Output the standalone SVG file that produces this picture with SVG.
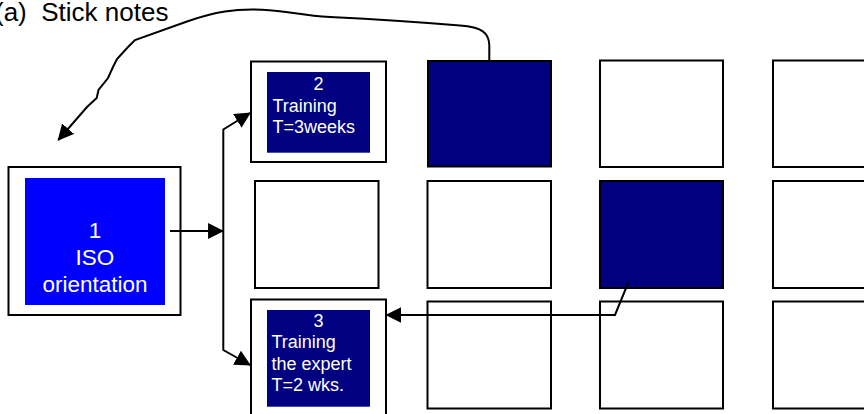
<svg xmlns="http://www.w3.org/2000/svg" width="864" height="414" viewBox="0 0 864 414">
<defs>
<marker id="ah" markerUnits="userSpaceOnUse" markerWidth="16" markerHeight="16" viewBox="0 0 15 15" refX="14" refY="7.5" orient="auto-start-reverse">
<path d="M0,0 L15,7.5 L0,15 z" fill="#000"/>
</marker>
<style>
.box{fill:#fff;stroke:#000;stroke-width:2}
.dark{fill:#000080;stroke:#000;stroke-width:2}
.navy{fill:#000080}
.blue{fill:#0000ff}
.t{font-family:"Liberation Sans",Arial,sans-serif;fill:#fff}
.s{font-size:18px}
.b{font-size:22.5px}
.ln{fill:none;stroke:#000;stroke-width:2}
</style>
</defs>
<rect width="864" height="414" fill="#fff"/>
<text x="-5" y="20.5" xml:space="preserve" style="font-family:'Liberation Sans',Arial,sans-serif;font-size:26px;fill:#000">(a)  Stick notes</text>

<g id="node1">
<rect class="box" x="8.5" y="167" width="172" height="148"/>
<rect class="blue" x="25" y="178" width="140" height="127"/>
<text class="t b" text-anchor="middle"><tspan x="95" y="237.5">1</tspan><tspan x="95" y="264.5">ISO</tspan><tspan x="95" y="291.5">orientation</tspan></text>
</g>

<g id="node2">
<rect class="box" x="251" y="61.5" width="135" height="100.5"/>
<rect class="navy" x="267" y="72" width="103" height="80.7"/>
<text class="t s"><tspan x="318.5" y="90" text-anchor="middle">2</tspan><tspan x="272.5" y="111.5">Training</tspan><tspan x="272.5" y="132.5">T=3weeks</tspan></text>
</g>

<g id="node3">
<rect class="box" x="251" y="299.5" width="135" height="130"/>
<rect class="navy" x="267" y="310" width="103" height="96.7"/>
<text class="t s"><tspan x="318.5" y="326.5" text-anchor="middle">3</tspan><tspan x="271.5" y="348">Training</tspan><tspan x="271.5" y="369.5">the expert</tspan><tspan x="271.5" y="390.5">T=2 wks.</tspan></text>
</g>

<g id="r1c2"><rect class="dark" x="428" y="61" width="123" height="105.5"/></g>
<g id="r1c3"><rect class="box" x="600" y="60.5" width="123" height="106.5"/></g>
<g id="r1c4"><rect class="box" x="773" y="60.5" width="123" height="106.5"/></g>

<g id="r2c1"><rect class="box" x="255" y="181" width="123.5" height="107"/></g>
<g id="r2c2"><rect class="box" x="427.5" y="181" width="123.5" height="107"/></g>
<g id="r2c3"><rect class="dark" x="600" y="181" width="123" height="107"/></g>
<g id="r2c4"><rect class="box" x="773" y="181" width="123" height="107"/></g>

<g id="r3c2"><rect class="box" x="427.5" y="301.5" width="123.5" height="107"/></g>
<g id="r3c3"><rect class="box" x="600" y="301.5" width="123" height="107"/></g>
<g id="r3c4"><rect class="box" x="773" y="301.5" width="123" height="107"/></g>

<g id="connectors">
<path class="ln" d="M170,231 H223" marker-end="url(#ah)"/>
<path class="ln" d="M250,113 L223.3,129.5 V350 L250,365" marker-start="url(#ah)" marker-end="url(#ah)"/>
<path class="ln" d="M628.3,282.5 L615,315 H386.5" marker-end="url(#ah)"/>
<path class="ln" d="M489.3,60 L489.3,45 C489,33 482,27 460,25.5 C430,23 380,19.5 330,17 C300,15.5 290,11 262,9.8 C235,8.5 215,12 187,21.5 L135,40 L128,47 L117,59 L113,67 L108,78 L98.5,90 L96.7,98 L87,107 L58.3,140" marker-end="url(#ah)"/>
</g>
</svg>
